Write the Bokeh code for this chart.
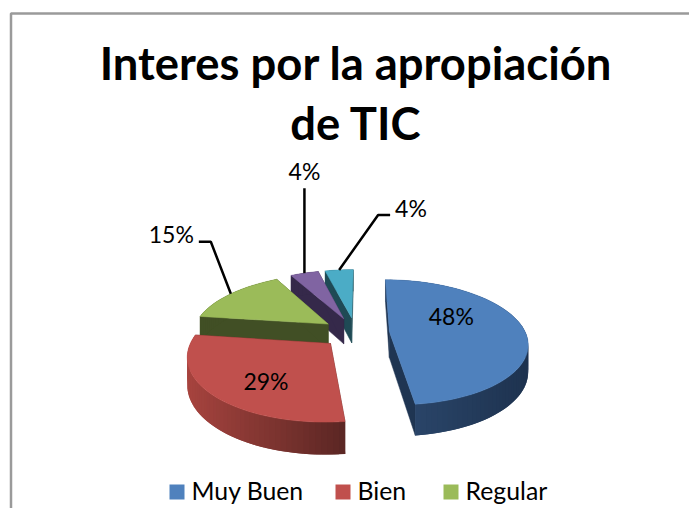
import math
from bokeh.plotting import figure
from bokeh.models import Range1d
from bokeh.core.properties import value
from bokeh.embed import file_html
from bokeh.resources import INLINE

TITLE_LINES = ["Interes por la apropiación", "de TIC"]
CATEGORIES = ["Muy Buen", "Bien", "Regular", "Otro A", "Otro B"]
VALUES = [48, 29, 15, 4, 4]
LEGEND_ITEMS = ["Muy Buen", "Bien", "Regular"]

TOP = ["#4F81BD", "#C0504D", "#9BBB59", "#8064A2", "#4BACC6"]
SIDE_LIGHT = ["#2A4569", "#A8443F", "#414F25", "#35294A", "#1F4A55"]
SIDE_DARK = ["#1E3350", "#5C2724", "#414F25", "#35294A", "#1F4A55"]
CUT = ["#1F3552", "#5C2724", "#414F25", "#35294A", "#1F4A55"]

CX, CY, RX, RY, K, DEPTH, EXPLODE, START = 355, 332, 136, 61, 0.17, 26, 0.25, 0.5
FONT = value("Lato")

W, H = 689, 508
p = figure(width=W, height=H, output_backend="svg", toolbar_location=None,
           x_range=Range1d(0, W), y_range=Range1d(H, 0),
           x_axis_type=None, y_axis_type=None, min_border=0,
           outline_line_color=None, background_fill_color="white")
p.grid.visible = False


def project(u, v, d=0.0):
    s = 1 / (1 - K * v)
    return CX + RX * u * s, CY + RY * v * s + d * s


def disc(angle, radius=1.0, offset=(0.0, 0.0)):
    a = math.radians(angle)
    return offset[0] + radius * math.sin(a), offset[1] - radius * math.cos(a)


def mix(c1, c2, t):
    a = [int(c1[i:i + 2], 16) for i in (1, 3, 5)]
    b = [int(c2[i:i + 2], 16) for i in (1, 3, 5)]
    return "#%02x%02x%02x" % tuple(round(x + (y - x) * t) for x, y in zip(a, b))


# frame of the chart area, which runs off the picture
p.line([W, 10.5, 10.5], [13, 13, H], line_color="#9A9A9A", line_width=2.5)

total = sum(VALUES)
slices = []
angle = START
for i, val in enumerate(VALUES):
    sweep = val / total * 360
    mid = angle + sweep / 2
    off = disc(mid, EXPLODE)
    slices.append(dict(i=i, a0=angle, a1=angle + sweep, mid=mid, off=off))
    angle += sweep

for s in sorted(slices, key=lambda t: {0: 4, 1: 3, 2: 2, 3: 1, 4: 0}[t["i"]]):
    i, a0, a1, off = s["i"], s["a0"], s["a1"], s["off"]
    apex = off
    n = max(6, int((a1 - a0) / 2))
    rim = [disc(a0 + (a1 - a0) * k / n, 1.0, off) for k in range(n + 1)]

    # cut faces
    for end in (rim[0], rim[-1]):
        xa, ya = project(*apex)
        xb, yb = project(*end)
        xc, yc = project(*end, DEPTH)
        xd, yd = project(*apex, DEPTH)
        p.patch([xa, xb, xc, xd], [ya, yb, yc, yd], fill_color=CUT[i], line_color=CUT[i], line_width=0.5)

    # outer wall: each quad overlaps the next so that no seam shows
    xe = project(*rim[-1])[0]
    x0 = project(*rim[0])[0]
    for k in range(n):
        x1, y1 = project(*rim[k])
        x2, y2 = project(*rim[min(k + 2, n)])
        x3, y3 = project(*rim[min(k + 2, n)], DEPTH)
        x4, y4 = project(*rim[k], DEPTH)
        t = 1.0
        if i == 0:
            t = (x1 - xe) / 110
        if i == 1:
            t = (x1 - x0 + 160) / 160
        c = mix(SIDE_LIGHT[i], SIDE_DARK[i], max(0, min(1, t)))
        p.patch([x1, x2, x3, x4], [y1, y2, y3, y4], fill_color=c, line_color=None)

    # top face
    pts = [project(*apex)] + [project(*q) for q in rim]
    p.patch([q[0] for q in pts], [q[1] for q in pts], fill_color=TOP[i], line_color=TOP[i], line_width=0.5)

# labels inside the two big slices: (slice, radius, angle shift)
for idx, radial, shift in ((0, 0.56, -26), (1, 0.66, -8)):
    s = slices[idx]
    x, y = project(*disc(s["mid"] + shift, radial, s["off"]))
    p.text([x], [y], text=[f"{VALUES[idx]}%"], text_font=FONT, text_font_size="23px",
           text_color="black", text_align="center", text_baseline="middle")

# leader lines with outside labels: (slice, elbow shift, end shift, text side)
LEADERS = [(2, (-20, -52), (-32, -52), "right", 8), (3, (0, -85), (0, -85), "center", 17), (4, (39, -55), (51, -55), "left", 7)]
for idx, elbow, end, side, rise in LEADERS:
    s = slices[idx]
    xa, ya = project(*disc(s["mid"], 1.0, s["off"]))
    xs = [xa, xa + elbow[0], xa + end[0]]
    ys = [ya, ya + elbow[1], ya + end[1]]
    p.line(xs, ys, line_color="black", line_width=2.5)
    tx = xs[-1] + (-5 if side == "right" else 5 if side == "left" else 0)
    ty = ys[-1] - rise
    p.text([tx], [ty], text=[f"{VALUES[idx]}%"], text_font=FONT, text_font_size="23px",
           text_color="black", text_align=side, text_baseline="middle")

# title
for line, yy in zip(TITLE_LINES, (62, 122)):
    p.text([355.5], [yy], text=[line], text_font=FONT, text_font_size="45.4px", text_font_style="bold",
           text_color="black", text_align="center", text_baseline="middle")

# legend
for name, xm in zip(LEGEND_ITEMS, (169, 335, 443)):
    c = TOP[CATEGORIES.index(name)]
    p.patch([xm, xm + 15, xm + 15, xm], [484, 484, 499, 499], fill_color=c, line_color=c, line_width=0)
    p.text([xm + 22], [489.5], text=[name], text_font=FONT, text_font_size="24.8px",
           text_color="black", text_align="left", text_baseline="middle")

open("out.html", "w").write(file_html(p, INLINE))
